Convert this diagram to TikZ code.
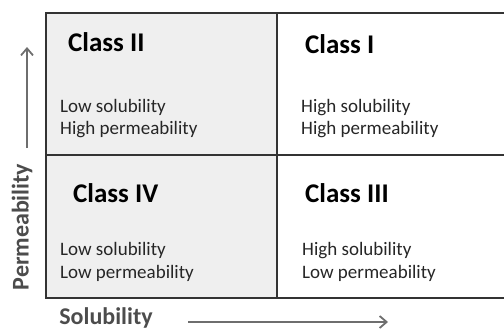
\documentclass[tikz,border=0pt]{standalone}
\usepackage{fontspec}
\setmainfont{Carlito}
\usetikzlibrary{arrows.meta}
\definecolor{gridline}{HTML}{333333}
\definecolor{cellgray}{HTML}{EFEFEF}
\definecolor{arrowgray}{HTML}{6E6E6E}
\begin{document}
\begin{tikzpicture}[x=1pt,y=-1pt,
  title/.style={anchor=base west,inner sep=0pt,font=\fontsize{27}{30}\selectfont\bfseries,text=black},
  desc/.style={anchor=base west,inner sep=0pt,font=\fontsize{19}{22}\selectfont,text=black!85},
  axis/.style={anchor=center,inner sep=0pt,font=\fontsize{24}{28}\selectfont\bfseries,text=black!70},
  grid/.style={draw=gridline,line width=1.8pt},
  axisarrow/.style={draw=arrowgray,line width=1.8pt,-{Straight Barb[length=7pt,width=12pt]}}]
\useasboundingbox (0,0) rectangle (504,332);
% cells
\fill[cellgray] (46,13) rectangle (277,298);
% grid
\coordinate (tl) at (46,13);
\coordinate (tr) at (504,13);
\coordinate (ml) at (46,155);
\coordinate (mr) at (504,155);
\coordinate (bl) at (46,298);
\coordinate (br) at (504,298);
\coordinate (tm) at (277,13);
\coordinate (bm) at (277,298);
\draw[grid] (tr) -- (tl) -- (bl) -- (br);
\draw[grid] (ml) -- (mr);
\draw[grid] (tm) -- (bm);
% titles
\node[title] (c2) at (68,52) {Class II};
\node[title] (c1) at (305,53) {Class I};
\node[title] (c4) at (73,202) {Class IV};
\node[title] (c3) at (305,202) {Class III};
% descriptions
\node[desc] (d2a) at (60,112) {Low solubility};
\node[desc] (d2b) at (60,134) {High permeability};
\node[desc] (d1a) at (301,112) {High solubility};
\node[desc] (d1b) at (301,134) {High permeability};
\node[desc] (d4a) at (60,255) {Low solubility};
\node[desc] (d4b) at (60,278) {Low permeability};
\node[desc] (d3a) at (302,255) {High solubility};
\node[desc] (d3b) at (302,278) {Low permeability};
% axes
\node[axis,rotate=90] (perm) at (22,227) {Permeability};
\node[axis] (sol) at (106,318) {Solubility};
\coordinate (pa0) at (27,148);
\coordinate (pa1) at (27,47);
\coordinate (sa0) at (188,322);
\coordinate (sa1) at (388,322);
\draw[axisarrow] (pa0) -- (pa1);
\draw[axisarrow] (sa0) -- (sa1);
\end{tikzpicture}
\end{document}
